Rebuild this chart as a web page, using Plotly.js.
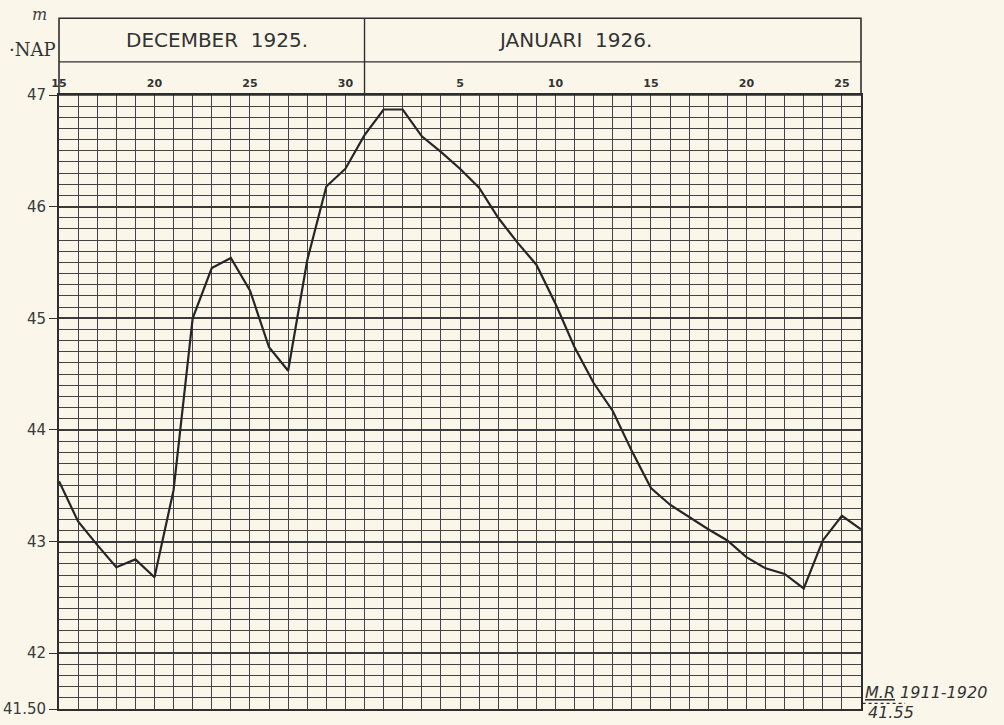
<!DOCTYPE html>
<html>
<head>
<meta charset="utf-8">
<script src="https://cdn.plot.ly/plotly-3.0.1.min.js"></script>
<style>
  html, body { margin: 0; padding: 0; background: #faf7ea; }
  #chart { width: 1004px; height: 725px; }
</style>
</head>
<body>
<div id="chart"></div>
<script>
// Dates (one reading per day), 15 Dec 1925 – 26 Jan 1926
const dates = [
  '1925-12-15','1925-12-16','1925-12-17','1925-12-18','1925-12-19','1925-12-20','1925-12-21',
  '1925-12-22','1925-12-23','1925-12-24','1925-12-25','1925-12-26','1925-12-27','1925-12-28',
  '1925-12-29','1925-12-30','1925-12-31','1926-01-01','1926-01-02','1926-01-03','1926-01-04',
  '1926-01-05','1926-01-06','1926-01-07','1926-01-08','1926-01-09','1926-01-10','1926-01-11',
  '1926-01-12','1926-01-13','1926-01-14','1926-01-15','1926-01-16','1926-01-17','1926-01-18',
  '1926-01-19','1926-01-20','1926-01-21','1926-01-22','1926-01-23','1926-01-24','1926-01-25',
  '1926-01-26'
];
// Water level in m + NAP
const level = [
  43.54, 43.18, 42.97, 42.77, 42.84, 42.68, 43.46,
  45.00, 45.45, 45.54, 45.25, 44.74, 44.53, 45.52,
  46.18, 46.34, 46.64, 46.87, 46.87, 46.63, 46.49,
  46.34, 46.17, 45.90, 45.68, 45.48, 45.13, 44.74,
  44.42, 44.17, 43.81, 43.48, 43.33, 43.22, 43.11,
  43.01, 42.86, 42.76, 42.71, 42.58, 43.01, 43.23,
  43.11
];
// Day tick labels along the top
const dayTickDates = ['1925-12-15','1925-12-20','1925-12-25','1925-12-30','1926-01-05','1926-01-10','1926-01-15','1926-01-20','1926-01-25'];
const dayTickText = ['15','20','25','30','5','10','15','20','25'];
// Month headers
const monthLabels = ['DECEMBER  1925.', 'JANUARI  1926.'];
const monthCenters = ['1925-12-23 06:00', '1926-01-11'];
const monthDivider = '1925-12-31';
// Level axis
const levelTickVals = [41.5, 42, 43, 44, 45, 46, 47];
const levelTickText = ['41.50', '42', '43', '44', '45', '46', '47'];
// Mean level 1911-1920
const meanLevel = 41.55;
const meanLabel = 'M.R';
const meanPeriod = '1911-1920';
const meanValueText = '41.55';

const ink = '#2e2e2e';
const gridInk = '#444444';
const xRange = ['1925-12-15', '1926-01-26'];
const yRange = [41.5, 47];

const trace = {
  x: dates, y: level, type: 'scatter', mode: 'lines',
  line: { color: '#262626', width: 2.2 },
  hoverinfo: 'x+y'
};
const axisTrace = {
  x: dates, y: level, type: 'scatter', mode: 'lines', xaxis: 'x2', yaxis: 'y2',
  line: { width: 0, color: 'rgba(0,0,0,0)' }, hoverinfo: 'skip', showlegend: false
};

const headerTop = 1.125, headerMid = 1.054;

const layout = {
  width: 1004, height: 725,
  margin: { l: 59, r: 143, t: 95, b: 16 },
  paper_bgcolor: '#faf7ea', plot_bgcolor: '#faf7ea',
  showlegend: false,
  xaxis: {
    type: 'date', range: xRange,
    tick0: '1925-12-15', dtick: 86400000, tickmode: 'linear',
    showticklabels: false, ticks: '',
    showgrid: true, gridcolor: gridInk, gridwidth: 1,
    showline: true, linecolor: ink, linewidth: 2, mirror: true,
    zeroline: false, fixedrange: true
  },
  xaxis2: {
    type: 'date', range: xRange, overlaying: 'x', side: 'top', anchor: 'y2',
    tickmode: 'array', tickvals: dayTickDates, ticktext: dayTickText,
    ticks: '', showgrid: false, showline: false, zeroline: false,
    tickfont: { family: 'DejaVu Sans', size: 11, color: '#333', weight: 'bold' },
    ticklabelstandoff: 5, fixedrange: true
  },
  yaxis: {
    range: yRange,
    tickmode: 'linear', tick0: 41.5, dtick: 0.1,
    showticklabels: false, ticks: '',
    showgrid: true, gridcolor: gridInk, gridwidth: 1,
    showline: true, linecolor: ink, linewidth: 2, mirror: true,
    zeroline: false, fixedrange: true
  },
  yaxis2: {
    range: yRange, overlaying: 'y', side: 'left', anchor: 'x2',
    tickmode: 'array', tickvals: levelTickVals, ticktext: levelTickText,
    ticks: 'outside', ticklen: 9, tickcolor: ink, tickwidth: 1,
    tickfont: { family: 'DejaVu Sans', size: 15, color: '#3a3a3a' },
    showgrid: true, gridcolor: '#3a3a3a', gridwidth: 2,
    showline: false, zeroline: false, fixedrange: true
  },
  shapes: [
    // header box
    { type: 'rect', xref: 'paper', yref: 'paper', x0: 0, x1: 1, y0: 1, y1: headerTop,
      line: { color: ink, width: 1.6 }, fillcolor: 'rgba(0,0,0,0)' },
    { type: 'line', xref: 'paper', yref: 'paper', x0: 0, x1: 1, y0: headerMid, y1: headerMid,
      line: { color: ink, width: 1.4 } },
    { type: 'line', xref: 'x', yref: 'paper', x0: monthDivider, x1: monthDivider, y0: 1, y1: headerTop,
      line: { color: ink, width: 1.4 } },
    // mean level dotted mark
    { type: 'line', xref: 'paper', yref: 'y', x0: 1.002, x1: 1.055, y0: meanLevel, y1: meanLevel,
      line: { color: ink, width: 1.2, dash: 'dot' } }
  ],
  annotations: [
    { xref: 'x', yref: 'paper', x: monthCenters[0], y: (headerTop + headerMid) / 2, text: monthLabels[0],
      showarrow: false, font: { family: 'DejaVu Sans', size: 20, color: '#333' }, yanchor: 'middle' },
    { xref: 'x', yref: 'paper', x: monthCenters[1], y: (headerTop + headerMid) / 2, text: monthLabels[1],
      showarrow: false, font: { family: 'DejaVu Sans', size: 20, color: '#333' }, yanchor: 'middle' },
    { xref: 'paper', yref: 'paper', x: -0.001, y: 1.054, xanchor: 'right', yanchor: 'bottom',
      text: '·NAP', showarrow: false, font: { family: 'DejaVu Serif', size: 18, color: '#333' } },
    { xref: 'paper', yref: 'paper', x: -0.012, y: 1.15, xanchor: 'right', yanchor: 'top',
      text: '<i>m</i>', showarrow: false, font: { family: 'DejaVu Serif', size: 16, color: '#444' } },
    { xref: 'paper', yref: 'y', x: 1.003, y: meanLevel, xanchor: 'left', yanchor: 'bottom', yshift: -1,
      text: '<i><u>' + meanLabel + '</u> ' + meanPeriod + '</i>', showarrow: false,
      font: { family: 'DejaVu Sans', size: 16, color: '#333' } },
    { xref: 'paper', yref: 'y', x: 1.006, y: meanLevel, xanchor: 'left', yanchor: 'top', yshift: 2,
      text: '<i>' + meanValueText + '</i>', showarrow: false,
      font: { family: 'DejaVu Sans', size: 16, color: '#333' } }
  ]
};

Plotly.newPlot('chart', [trace, axisTrace], layout, { displayModeBar: false, staticPlot: true });
</script>
</body>
</html>
